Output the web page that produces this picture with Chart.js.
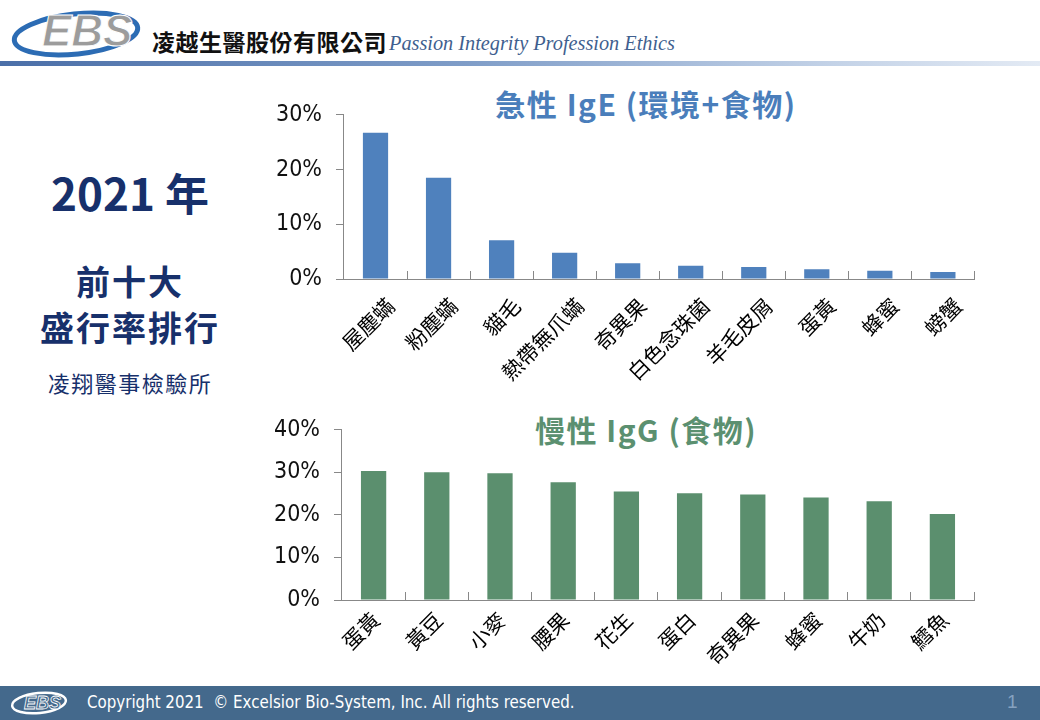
<!DOCTYPE html>
<html>
<head>
<meta charset="utf-8">
<script src="https://cdn.jsdelivr.net/npm/chart.js@4.4.0/dist/chart.umd.min.js"></script>
<style>
  body { margin: 0; width: 1040px; height: 720px; position: relative; overflow: hidden; background: #fff;
         font-family: "Noto Sans CJK TC", sans-serif; }
  .abs { position: absolute; }
  #band { left: 0; top: 61px; width: 1040px; height: 5px;
          background: linear-gradient(to right, #4b6fa8 0%, #7f9dc8 45%, #c3d2e7 80%, #e3eaf4 100%); }
  #company { left: 152px; top: 24px; font-size: 23px; font-weight: bold; color: #111; letter-spacing: 0.5px; }
  #motto { left: 389px; top: 32px; font-family: "Liberation Serif", serif; font-style: italic; font-size: 20.3px; color: #3f5f8f; }
  .side { width: 260px; text-align: center; color: #17306b; font-weight: bold; }
  #year { left: 0; top: 164px; font-size: 44px; line-height: 56px; }
  #top10 { left: 0; top: 258px; font-size: 34px; line-height: 46px; letter-spacing: 2px; }
  #lab { left: 0; top: 366px; font-size: 22px; line-height: 32px; font-weight: normal; letter-spacing: 1.5px; }
  .ctitle { width: 500px; text-align: center; font-size: 30px; font-weight: bold; line-height: 38px; letter-spacing: 1.5px; }
  #t1 { left: 396px; top: 84px; color: #4a7ebb; }
  #t2 { left: 396px; top: 410px; color: #5b9070; }
  #footer { left: 0; top: 686px; width: 1040px; height: 34px; background: #44698c; }
  #copy { left: 87px; top: 690px; color: #fff; font-family: "Liberation Sans Narrow", "DejaVu Sans Condensed", sans-serif;
          font-size: 18px; line-height: 24px; transform: scaleX(0.93); transform-origin: left center; white-space: nowrap; }
  #pageno { left: 1007px; top: 691px; color: #86a2c0; font-family: "Liberation Sans Narrow", sans-serif; font-size: 19px; }
  canvas { position: absolute; }
</style>
</head>
<body>

<!-- header -->
<svg class="abs" style="left:8px;top:6px" width="140" height="54">
  <ellipse cx="68" cy="28" rx="62" ry="20" fill="none" stroke="#2c6cb4" stroke-width="5" transform="rotate(-6 68 28)"/>
  <text x="34" y="40" font-family="Liberation Sans, Arial, sans-serif" font-size="44" font-weight="bold" font-style="italic" fill="#9c9c9c" stroke="#fff" stroke-width="1">EBS</text>
</svg>
<div id="company" class="abs">凌越生醫股份有限公司</div>
<div id="motto" class="abs">Passion Integrity Profession Ethics</div>
<div id="band" class="abs"></div>

<!-- left side -->
<div id="year" class="abs side">2021 年</div>
<div id="top10" class="abs side">前十大<br>盛行率排行</div>
<div id="lab" class="abs side">凌翔醫事檢驗所</div>

<!-- chart titles -->
<div id="t1" class="abs ctitle">急性 IgE (環境+食物)</div>
<div id="t2" class="abs ctitle">慢性 IgG (食物)</div>

<canvas id="igeChart" width="721" height="318" style="left:262px;top:87px"></canvas>
<canvas id="iggChart" width="720" height="283" style="left:260px;top:402px"></canvas>

<!-- footer -->
<div id="footer" class="abs"></div>
<svg class="abs" style="left:8px;top:689px" width="62" height="28">
  <ellipse cx="31" cy="14" rx="27" ry="10" fill="none" stroke="#fff" stroke-width="2.5" transform="rotate(-6 31 14)"/>
  <text x="16" y="20" font-family="Liberation Sans, Arial, sans-serif" font-size="18" font-weight="bold" font-style="italic" fill="#44698c" stroke="#fff" stroke-width="0.8">EBS</text>
</svg>
<div id="copy" class="abs">Copyright 2021 &nbsp;© Excelsior Bio-System, Inc. All rights reserved.</div>
<div id="pageno" class="abs">1</div>

<script>
// 急性 IgE (環境+食物)
const igeLabels = ["屋塵蟎", "粉塵蟎", "貓毛", "熱帶無爪蟎", "奇異果", "白色念珠菌", "羊毛皮屑", "蛋黃", "蜂蜜", "螃蟹"];
const igeValues = [26.7, 18.5, 7.1, 4.8, 2.9, 2.4, 2.2, 1.8, 1.5, 1.3];
const igeTicks = [0, 10, 20, 30];

// 慢性 IgG (食物)
const iggLabels = ["蛋黃", "黃豆", "小麥", "腰果", "花生", "蛋白", "奇異果", "蜂蜜", "牛奶", "鱈魚"];
const iggValues = [30.3, 30.0, 29.8, 27.7, 25.5, 25.1, 24.8, 24.1, 23.2, 20.2];
const iggTicks = [0, 10, 20, 30, 40];

const axisColor = "#888888";
const numFont = '"Liberation Sans Narrow", "DejaVu Sans Condensed", sans-serif';

function makeChart(id, labels, values, ticks, color, opt) {
  const ctx = document.getElementById(id).getContext("2d");
  return new Chart(ctx, {
    type: "bar",
    data: {
      labels: labels,
      datasets: [{
        data: values,
        backgroundColor: color,
        barPercentage: 0.4,
        categoryPercentage: 1.0,
      }],
    },
    options: {
      responsive: false,
      animation: false,
      layout: { padding: { top: opt.padTop, right: 6, left: 0, bottom: 0 } },
      plugins: { legend: { display: false }, tooltip: { enabled: false } },
      scales: {
        x: {
          grid: { display: true, drawOnChartArea: false, drawTicks: true, tickLength: -8, color: axisColor },
          border: { display: true, color: axisColor, width: 1 },
          ticks: {
            autoSkip: false, maxRotation: 45, minRotation: 45,
            padding: opt.labelPad, labelOffset: opt.labelShift,
            color: "#000", font: { family: '"Noto Sans CJK TC", sans-serif', size: 21 },
          },
          afterFit: (scale) => { scale.height = opt.xHeight; },
        },
        y: {
          min: ticks[0],
          max: ticks[ticks.length - 1],
          grid: { display: true, drawOnChartArea: false, drawTicks: true, tickLength: 8, color: axisColor },
          border: { display: true, color: axisColor, width: 1 },
          ticks: {
            stepSize: ticks[1] - ticks[0], padding: 14, color: "#111",
            font: { family: numFont, size: 23 },
            callback: (v) => v + "%",
          },
        },
      },
    },
  });
}

makeChart("igeChart", igeLabels, igeValues, igeTicks, "#4f81bd", { xHeight: 126, padTop: 19, labelPad: 22, labelShift: 15 });
makeChart("iggChart", iggLabels, iggValues, iggTicks, "#5b8f6e", { xHeight: 85, padTop: 15, labelPad: 15, labelShift: 2 });
</script>
</body>
</html>
